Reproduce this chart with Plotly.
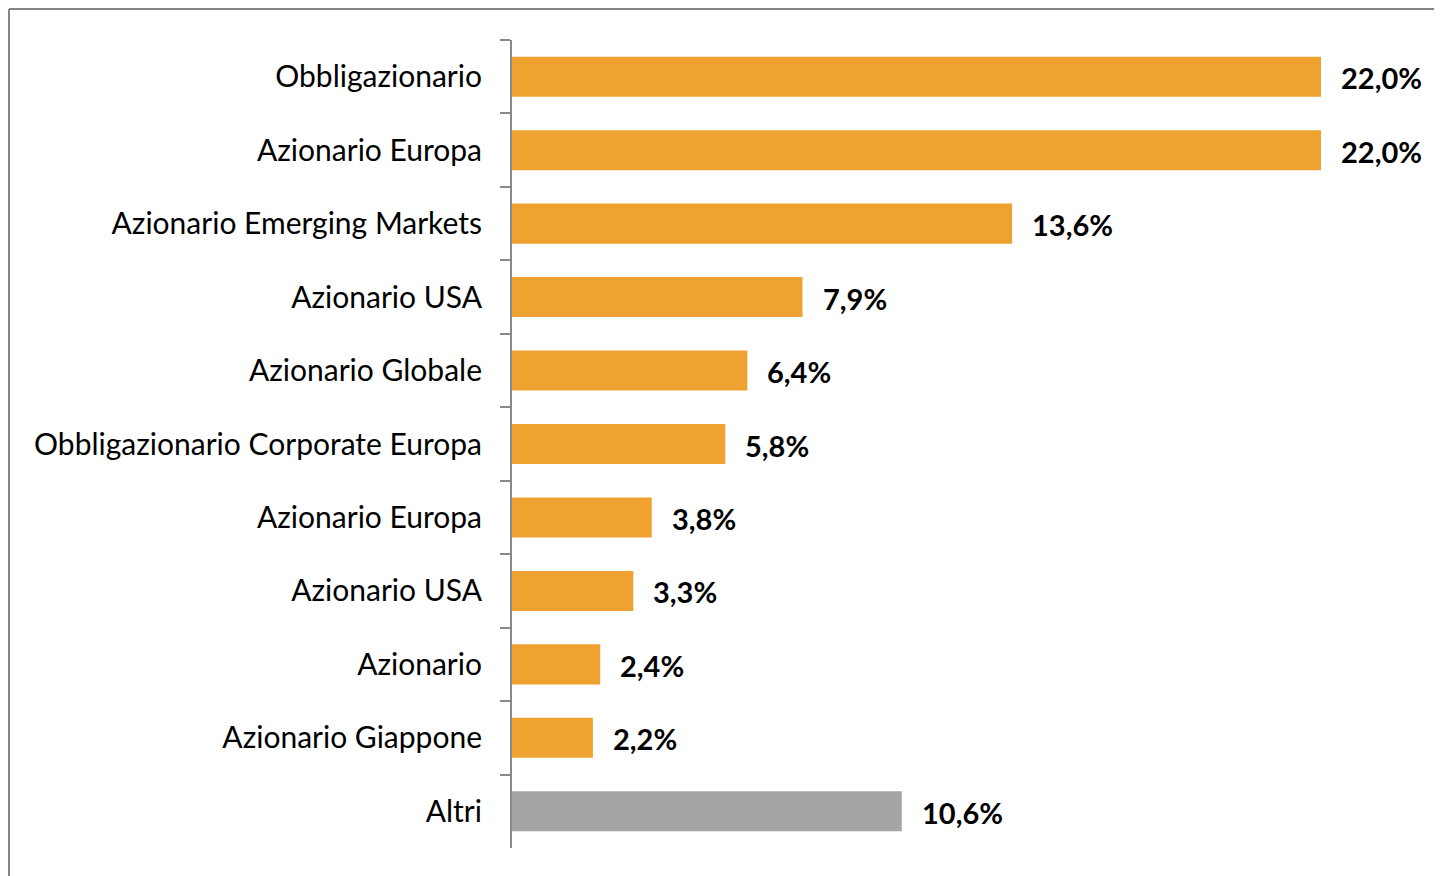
import plotly.graph_objects as go

categories = ["Obbligazionario", "Azionario Europa", "Azionario Emerging Markets", "Azionario USA",
              "Azionario Globale", "Obbligazionario Corporate Europa", "Azionario Europa\u200b",
              "Azionario USA\u200b", "Azionario", "Azionario Giappone", "Altri"]
values = [22.0, 22.0, 13.6, 7.9, 6.4, 5.8, 3.8, 3.3, 2.4, 2.2, 10.6]
labels = ["22,0%", "22,0%", "13,6%", "7,9%", "6,4%", "5,8%", "3,8%", "3,3%", "2,4%", "2,2%", "10,6%"]
colors = ["#F0A231"] * 10 + ["#A5A5A5"]

FONT = "Lato"
OFF = 8  # page offset
W, H = 1442, 876
L, R, T, B = 512 - OFF, 1442 - 1321 + OFF, 40 - OFF, 876 - 848 + OFF

fig = go.Figure(go.Bar(
    x=values, y=categories, orientation="h",
    marker=dict(color=colors, line=dict(width=0)),
    hoverinfo="skip",
))

for v, c, lab in zip(values, categories, labels):
    fig.add_annotation(x=v, y=c, text="<b>" + lab + "</b>", showarrow=False,
                       xanchor="left", xshift=18, yshift=-1,
                       font=dict(family=FONT, size=29, color="#000000"))

fig.update_layout(
    width=W, height=H,
    margin=dict(l=L, r=R, t=T, b=B),
    paper_bgcolor="white", plot_bgcolor="white",
    bargap=0.455, showlegend=False,
    font=dict(family=FONT, size=30, color="#000000"),
    xaxis=dict(range=[0, 22.0], visible=False, fixedrange=True),
    yaxis=dict(autorange="reversed", type="category", showline=True, linecolor="#898989",
               linewidth=2, ticks="outside", tickson="boundaries", ticklen=10,
               tickcolor="#898989", tickwidth=2, ticklabelstandoff=22,
               tickfont=dict(family=FONT, size=30, color="#000000"), showgrid=False),
)

pw = W - L - R
ph = H - T - B
fx = (1 - L) / pw
fy = 1 + (T - 1) / ph
# outer frame
fig.add_shape(type="line", xref="paper", yref="paper",
              x0=fx, x1=1.3, y0=fy, y1=fy,
              line=dict(color="#858585", width=2))
fig.add_shape(type="line", xref="paper", yref="paper",
              x0=fx, x1=fx, y0=-0.2, y1=fy,
              line=dict(color="#858585", width=2))

fig.write_html("out.html")
